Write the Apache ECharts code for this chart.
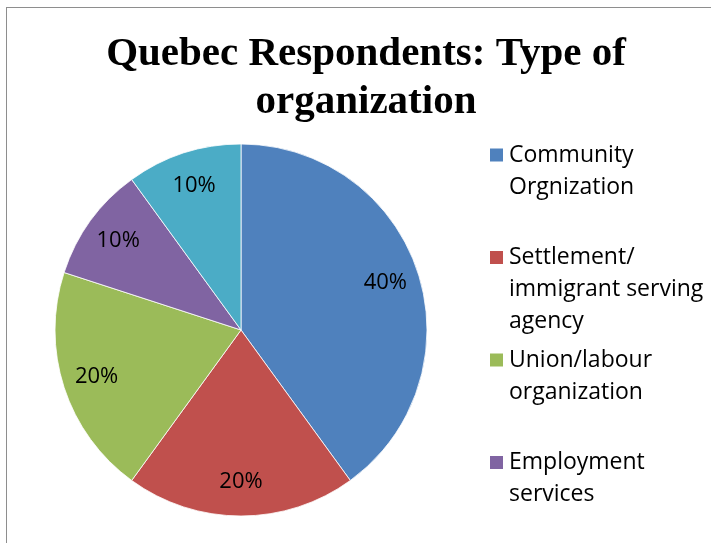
<!DOCTYPE html>
<html>
<head>
<meta charset="utf-8">
<script src="https://cdn.jsdelivr.net/npm/echarts@6/dist/echarts.min.js"></script>
<style>
  html, body { margin: 0; padding: 0; background: #fff; }
  #main { width: 711px; height: 543px; }
  #frame { position: absolute; left: 6px; top: 7px; width: 800px; height: 700px;
           border: 1.5px solid #8e8e8e; pointer-events: none; }
</style>
</head>
<body>
<div id="main"></div>
<div id="frame"></div>
<script>
// data
const categories = [
  'Community\nOrgnization',
  'Settlement/\nimmigrant serving\nagency',
  'Union/labour\norganization',
  'Employment\nservices',
  'Other'
]
const shares = [40, 20, 20, 10, 10]
const colors = ['#4F81BD', '#C0504D', '#9BBB59', '#8064A2', '#4BACC6']
const legendShown = 4   // the fifth entry falls below the visible area

const pieData = categories.map((name, i) => ({ name: name, value: shares[i] }))

const R = 186
const lineH = 32
const firstIcon = 155      // centre of first legend marker
const slot = 102.5         // distance between legend markers

// one legend per entry; blank lines above the name keep the marker on the first text line
const legends = categories.slice(0, legendShown).map((name, i) => {
  const n = name.split('\n').length
  return {
    orient: 'vertical',
    left: 488,
    top: firstIcon + i * slot - (2 * n - 1) * lineH / 2,
    padding: 0,
    itemWidth: 15,
    itemHeight: 15,
    itemGap: 0,
    selectedMode: false,
    icon: 'rect',
    data: [name],
    formatter: nm => '\n'.repeat(n - 1) + nm,
    textStyle: {
      fontFamily: 'Open Sans',
      fontSize: 23,
      color: '#000',
      lineHeight: lineH
    }
  }
})

const chart = echarts.init(document.getElementById('main'))
chart.setOption({
  animation: false,
  color: colors,
  title: {
    text: 'Quebec Respondents: Type of\norganization',
    left: 361,
    textAlign: 'center',
    top: 25,
    textStyle: {
      fontFamily: 'Liberation Serif',
      fontWeight: 'bold',
      fontSize: 41,
      lineHeight: 48,
      color: '#000'
    }
  },
  legend: legends,
  series: [
    {
      type: 'pie',
      center: [241, 330],
      radius: [0, R],
      startAngle: 90,
      clockwise: true,
      silent: true,
      itemStyle: { borderColor: '#fff', borderWidth: 0.8 },
      label: { show: false },
      labelLine: { show: false },
      data: pieData
    },
    {
      // label ring: puts the percentages near the outer part of each slice
      type: 'pie',
      center: [241, 330],
      radius: [R * 0.6, R],
      startAngle: 90,
      clockwise: true,
      silent: true,
      itemStyle: { color: 'rgba(0,0,0,0)' },
      label: {
        show: true,
        position: 'inside',
        formatter: '{c}%',
        fontFamily: 'Open Sans',
        fontSize: 22,
        color: '#000'
      },
      labelLine: { show: false },
      data: pieData
    }
  ]
})
</script>
</body>
</html>
